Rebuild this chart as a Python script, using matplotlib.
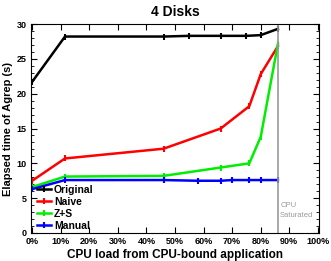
import matplotlib
matplotlib.use("Agg")
import matplotlib.pyplot as plt
from matplotlib.ticker import MultipleLocator, FuncFormatter

plt.rcParams['font.family'] = ['Liberation Sans', 'DejaVu Sans']

load_orig = [0, 11.5, 46, 55, 66, 75, 80, 86]
original = [21.7, 28.2, 28.2, 28.3, 28.3, 28.3, 28.4, 29.3]
load_naive = [0, 11.5, 46, 66, 76, 80, 86]
naive = [7.5, 10.7, 12.1, 15.0, 18.2, 22.8, 26.8]
load_zs = [0, 11.5, 46, 66, 76, 80, 86]
zs = [6.6, 8.1, 8.2, 9.4, 10.0, 13.8, 27.1]
load_manual = [0, 11.5, 46, 58, 66, 70, 76, 80, 86]
manual = [6.3, 7.6, 7.6, 7.5, 7.5, 7.6, 7.6, 7.6, 7.6]
saturation = 86

fig = plt.figure(figsize=(3.31, 2.61), dpi=100)
ax = fig.add_axes([31/331, 1-233/261, 288/331, 209/261])

series = [(load_orig, original, 'black', 'Original'),
          (load_naive, naive, '#ff0000', 'Naive'),
          (load_zs, zs, '#00ee00', 'Z+S'),
          (load_manual, manual, '#0000ff', 'Manual')]
for x, y, c, lab in series:
    ax.plot(x, y, color=c, lw=1.8, marker='|', ms=4, mew=1.5, label=lab)

ax.axvline(saturation, color='#999999', lw=1.2)
ax.text(saturation + 0.8, 4.5, 'CPU\nSaturated', color='#999999', fontsize=5.5,
        va='top', ha='left', linespacing=1.6)

ax.set_xlim(-0.4, 100.4)
ax.set_ylim(0, 30)
ax.xaxis.set_major_locator(MultipleLocator(10))
ax.xaxis.set_major_formatter(FuncFormatter(lambda v, p: f"{int(round(v))}%"))
ax.yaxis.set_major_locator(MultipleLocator(5))
ax.yaxis.set_minor_locator(MultipleLocator(1))
ax.tick_params(which='both', direction='in', top=True, right=True)
ax.tick_params(which='major', length=4, labelsize=6.5)
ax.tick_params(axis='x', which='major', pad=3)
ax.tick_params(axis='y', which='major', pad=3)
ax.tick_params(which='minor', length=2)
for lbl in ax.get_xticklabels() + ax.get_yticklabels():
    lbl.set_fontweight('bold')

ax.set_title('4 Disks', fontsize=10, fontweight='bold', pad=6)
ax.set_xlabel('CPU load from CPU-bound application', fontsize=8.5, fontweight='bold', labelpad=2)
ax.set_ylabel('Elapsed time of Agrep (s)', fontsize=8, fontweight='bold', labelpad=3)

leg = ax.legend(loc='lower left', bbox_to_anchor=(0.0, -0.02), frameon=False,
                prop={'weight': 'bold', 'size': 7.5},
                handlelength=1.3, handletextpad=0.3, labelspacing=0.2, borderaxespad=0.2)

fig.savefig('out.png', dpi=100)
